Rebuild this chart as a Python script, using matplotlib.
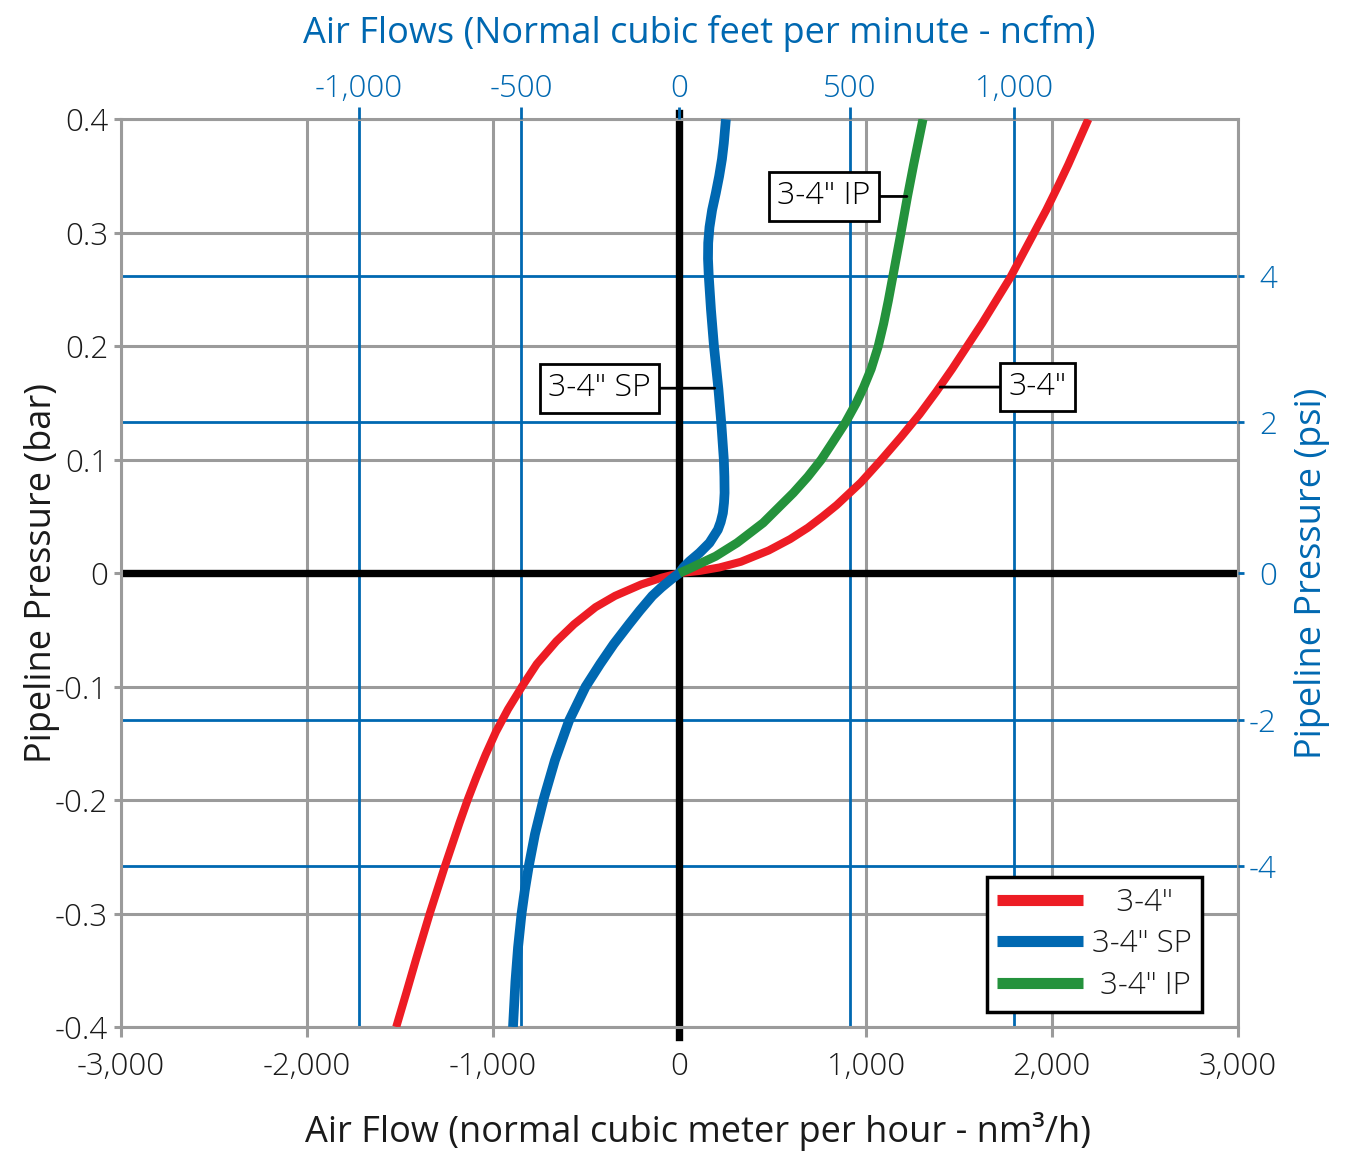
import matplotlib
matplotlib.use("Agg")
import matplotlib.pyplot as plt
from matplotlib.lines import Line2D

plt.rcParams['font.family'] = ['Open Sans', 'DejaVu Sans']
plt.rcParams['font.weight'] = 'light'

# ── Data: pipeline pressure (bar) vs air flow (nm3/h) ────
P_STD = [-0.400, -0.370, -0.340, -0.300, -0.260, -0.220, -0.200, -0.180,
         -0.160, -0.140, -0.120, -0.100, -0.080, -0.060, -0.045, -0.030,
         -0.020, -0.010, -0.004, 0.0, 0.002, 0.005, 0.010, 0.020, 0.030,
         0.040, 0.050, 0.060, 0.080, 0.100, 0.120, 0.140, 0.160, 0.180,
         0.200, 0.220, 0.240, 0.260, 0.280, 0.300, 0.320, 0.340, 0.360,
         0.380, 0.400]
Q_STD = [-1520, -1466, -1413, -1340, -1262, -1180, -1137, -1090,
         -1040, -985, -920, -845, -765, -660, -565, -450,
         -345, -205, -95, 0, 110, 215, 330, 480, 595,
         690, 770, 845, 975, 1085, 1190, 1290, 1380, 1465,
         1545, 1625, 1700, 1775, 1840, 1905, 1970, 2030, 2088,
         2142, 2196]

P_SP = [-0.400, -0.360, -0.330, -0.300, -0.280, -0.258, -0.230, -0.200,
        -0.165, -0.130, -0.100, -0.080, -0.0625, -0.045, -0.033, -0.020,
        -0.0124, -0.005, 0.0, 0.005, 0.0104, 0.0178, 0.0267, 0.0383, 0.045,
        0.053, 0.062, 0.0707, 0.085, 0.100, 0.133, 0.162, 0.200, 0.232,
        0.262, 0.277, 0.291, 0.305, 0.320, 0.335, 0.350, 0.365, 0.379, 0.400]
Q_SP = [-893, -880, -866, -847, -830, -808, -775, -730,
        -668, -592, -503, -425, -352, -270, -212, -145,
        -95, -40, 0, 22, 55, 108, 162, 207, 222,
        234, 240, 243, 242, 239, 225, 210, 186, 170,
        158, 154, 155, 162, 176, 196, 214, 229, 239, 250]

P_IP = [0.0, 0.004, 0.0075, 0.0149, 0.0267, 0.0443, 0.0707, 0.085, 0.100,
        0.115, 0.133, 0.150, 0.164, 0.180, 0.200, 0.220, 0.240, 0.262,
        0.300, 0.332, 0.360, 0.380, 0.400]
Q_IP = [0, 55, 99, 195, 310, 450, 612, 690, 762,
        822, 893, 950, 990, 1030, 1068, 1097, 1122, 1147,
        1190, 1225, 1258, 1283, 1308]

X_TICKS = [-3000, -2000, -1000, 0, 1000, 2000, 3000]
X_LABELS = ["-3,000", "-2,000", "-1,000", "0", "1,000", "2,000", "3,000"]
Y_TICKS = [-0.4, -0.3, -0.2, -0.1, 0, 0.1, 0.2, 0.3, 0.4]
Y_LABELS = ["-0.4", "-0.3", "-0.2", "-0.1", "0", "0.1", "0.2", "0.3", "0.4"]

# secondary scales (where the chart puts them on the primary scales)
NCFM_LABELS = ["-1,000", "-500", "0", "500", "1,000"]
NCFM_AT = [-1722, -850, 0, 915, 1795]
PSI_LABELS = ["4", "2", "0", "-2", "-4"]
PSI_AT = [0.262, 0.133, 0.0, -0.129, -0.258]

RED = "#ed1c24"
BLUE = "#0068b1"
GREEN = "#24923c"
GRAY = "#9b9b9b"
INK = "#1a1a1a"
TICK_FS = 22.5

fig = plt.figure(figsize=(13.5, 11.64), dpi=100)
ax = fig.add_axes([0.0893, 0.1177, 0.8278, 0.7798])
ax.set_xlim(-3000, 3000)
ax.set_ylim(-0.4, 0.4)

ax.set_xticks(X_TICKS, X_LABELS)
ax.set_yticks(Y_TICKS, Y_LABELS)
ax.grid(True, color=GRAY, lw=2.2, zorder=0)
ax.set_axisbelow(True)
for s in ax.spines.values():
    s.set_color(GRAY)
    s.set_linewidth(2.2)
ax.tick_params(axis='x', length=7, width=2.2, color=GRAY, labelsize=TICK_FS,
               labelcolor=INK, pad=10)
ax.tick_params(axis='y', length=5, width=2.2, color=GRAY, labelsize=TICK_FS,
               labelcolor=INK, pad=4)

# blue grid of the secondary scales
for v in NCFM_AT:
    if v != 0:
        ax.axvline(v, color=BLUE, lw=2.0, zorder=1)
for v in PSI_AT:
    if v != 0:
        ax.axhline(v, color=BLUE, lw=2.0, zorder=1)

# heavy zero axes
ax.axhline(0, color="black", lw=5.3, zorder=2)
ax.axvline(0, ymin=-0.011, ymax=1.007, color="black", lw=5.3, zorder=2,
           clip_on=False)

# ── curves ──────────────────────────────────────────────────────────────────
ax.plot(Q_STD, P_STD, color=RED, lw=5.8, zorder=3, solid_capstyle="butt",
        solid_joinstyle="round")
ax.plot(Q_SP, P_SP, color=BLUE, lw=7, zorder=3, solid_capstyle="butt",
        solid_joinstyle="round")
ax.plot(Q_IP, P_IP, color=GREEN, lw=6.5, zorder=3, solid_capstyle="butt",
        solid_joinstyle="round")

box = dict(boxstyle="square,pad=0.26", fc="white", ec="black", lw=2)
line = dict(arrowstyle="-", color="black", lw=2, shrinkA=0, shrinkB=0)
ax.annotate('3-4" SP', xy=(190, 0.163), xytext=(-430, 0.163), fontsize=23,
            ha="center", va="center", bbox=box, arrowprops=line, zorder=4)
ax.annotate('3-4" IP', xy=(1222, 0.332), xytext=(776, 0.332), fontsize=23,
            ha="center", va="center", bbox=box, arrowprops=line, zorder=4)
ax.annotate('3-4"', xy=(1400, 0.164), xytext=(1922, 0.164), fontsize=23,
            ha="center", va="center", bbox=box, arrowprops=line, zorder=4)

ax.set_xlabel("Air Flow (normal cubic meter per hour - nm³/h)", fontsize=26,
              color=INK)
ax.xaxis.set_label_coords(0.517, -0.094)
ax.set_ylabel("Pipeline Pressure (bar)", fontsize=26, color=INK)
ax.yaxis.set_label_coords(-0.054, 0.5)

# ── top axis: ncfm ──────────────────────────────────────────────────────────
axt = ax.twiny()
axt.set_xlim(ax.get_xlim())
axt.set_xticks(NCFM_AT, NCFM_LABELS)
axt.tick_params(axis='x', length=8.6, width=2.0, color=BLUE, labelcolor=BLUE,
                labelsize=TICK_FS, pad=2)
axt.set_xlabel("Air Flows (Normal cubic feet per minute - ncfm)", fontsize=26,
               color=BLUE)
axt.xaxis.set_label_coords(0.518, 1.084)
for s in axt.spines.values():
    s.set_visible(False)

# ── right axis: psi ─────────────────────────────────────────────────────────
axr = ax.twinx()
axr.set_ylim(ax.get_ylim())
axr.set_yticks(PSI_AT, PSI_LABELS)
axr.tick_params(axis='y', length=4.3, width=2.0, color=BLUE, labelcolor=BLUE,
                labelsize=TICK_FS, pad=23.5)
for t in axr.get_yticklabels():
    t.set_horizontalalignment("right")
axr.set_ylabel("Pipeline Pressure (psi)", fontsize=26, color=BLUE)
axr.yaxis.set_label_coords(1.05, 0.5)
for s in axr.spines.values():
    s.set_visible(False)

# ── legend ──────────────────────────────────────────────────────────────────
handles = [Line2D([], [], color=RED, lw=8, solid_capstyle="butt"),
           Line2D([], [], color=BLUE, lw=8, solid_capstyle="butt"),
           Line2D([], [], color=GREEN, lw=8, solid_capstyle="butt")]
leg = axr.legend(handles, ['   3-4"', '3-4" SP', ' 3-4" IP'],
                 loc="lower right", bbox_to_anchor=(0.968, 0.0165),
                 borderaxespad=0, fontsize=22.5, handlelength=2.75,
                 handletextpad=0.3, labelspacing=0.3, borderpad=0.33,
                 fancybox=False, framealpha=1, edgecolor="black")
leg.get_frame().set_linewidth(2.5)
for t in leg.get_texts():
    t.set_color(INK)

fig.savefig("out.png", dpi=100)
